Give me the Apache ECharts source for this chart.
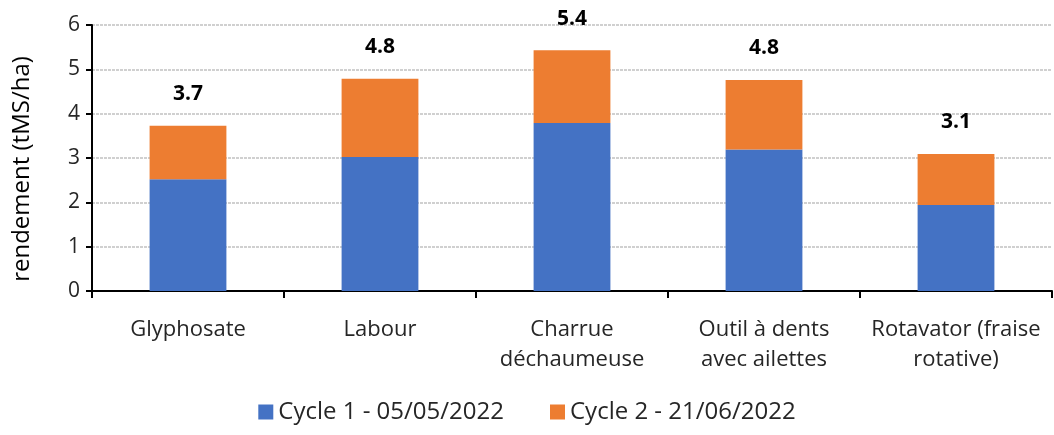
<!DOCTYPE html>
<html>
<head>
<meta charset="utf-8">
<script src="https://cdn.jsdelivr.net/npm/echarts@6/dist/echarts.min.js"></script>
<style>
  html, body { margin: 0; padding: 0; background: #fff; }
  #chart { width: 1054px; height: 435px; }
</style>
</head>
<body>
<div id="chart"></div>
<script>
// data
const categories = ['Glyphosate', 'Labour', 'Charrue\ndéchaumeuse', 'Outil à dents\navec ailettes', 'Rotavator (fraise\nrotative)'];
const cycle1 = [2.52, 3.02, 3.79, 3.19, 1.94];
const cycle2 = [1.21, 1.77, 1.64, 1.57, 1.15];
const seriesNames = ['Cycle 1 - 05/05/2022', 'Cycle 2 - 21/06/2022'];
const yTicks = [0, 1, 2, 3, 4, 5, 6];

const font = 'Open Sans';

const chart = echarts.init(document.getElementById('chart'));

chart.setOption({
    animation: false,
    textStyle: { fontFamily: font },
    grid: { left: 92, right: 2, top: 25, bottom: 144 },
    legend: {
        bottom: 6,
        left: 'center',
        itemWidth: 15,
        itemHeight: 15,
        itemGap: 46,
        icon: 'rect',
        textStyle: { fontFamily: font, fontSize: 24, color: '#262626' },
        data: seriesNames
    },
    xAxis: {
        type: 'category',
        data: categories,
        axisLine: { lineStyle: { color: '#000', width: 2 } },
        axisTick: { show: true, length: 7, lineStyle: { color: '#000', width: 2 } },
        axisLabel: { color: '#262626', fontSize: 22, lineHeight: 30, margin: 24, interval: 0 }
    },
    yAxis: {
        type: 'value',
        min: yTicks[0],
        max: yTicks[yTicks.length - 1],
        interval: 1,
        name: 'rendement (tMS/ha)',
        nameLocation: 'middle',
        nameGap: 58,
        nameTextStyle: { fontSize: 24, color: '#000', padding: [0, 22, 0, 0] },
        axisLine: { show: true, lineStyle: { color: '#000', width: 2 } },
        axisTick: { show: true, length: 6, lineStyle: { color: '#000', width: 2 } },
        axisLabel: { color: '#262626', fontSize: 21, margin: 12 },
        splitLine: { lineStyle: { color: '#d0d0d0', width: 2, type: [3, 1] } }
    },
    series: [
        {
            name: seriesNames[0],
            type: 'bar',
            stack: 'total',
            barWidth: '40%',
            itemStyle: { color: '#4472C4' },
            data: cycle1
        },
        {
            name: seriesNames[1],
            type: 'bar',
            stack: 'total',
            itemStyle: { color: '#ED7D31' },
            data: cycle2,
            label: {
                show: true,
                position: 'top',
                distance: 21,
                fontSize: 21,
                fontWeight: 'bold',
                color: '#000',
                formatter: p => (cycle1[p.dataIndex] + cycle2[p.dataIndex]).toFixed(1)
            }
        }
    ]
});
</script>
</body>
</html>
